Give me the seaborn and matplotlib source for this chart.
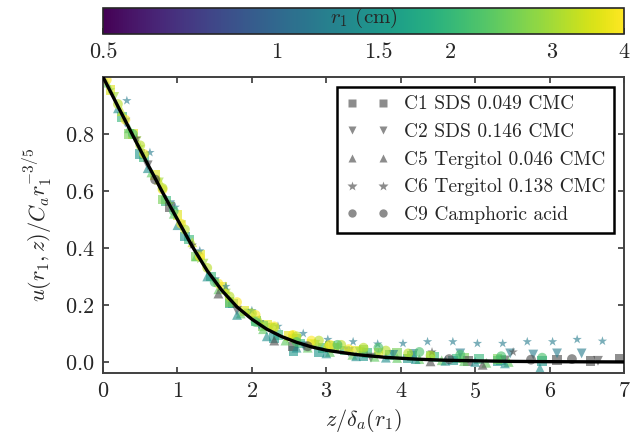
import seaborn as sns
import matplotlib as mpl
import matplotlib.pyplot as plt
import pandas as pd
from matplotlib.colors import LogNorm
from matplotlib.lines import Line2D
from matplotlib.ticker import NullLocator

# master curve
curve_z = [0, 0.2, 0.4, 0.6, 0.8, 1.0, 1.2, 1.4, 1.6, 1.8, 2.0, 2.2, 2.4, 2.6, 2.8,
           3.0, 3.4, 3.8, 4.2, 4.6, 5.0, 5.5, 6.0, 7.0]
curve_u = [1.0, 0.897, 0.795, 0.694, 0.595, 0.500, 0.405, 0.320, 0.250, 0.193, 0.150,
           0.115, 0.089, 0.069, 0.053, 0.041, 0.026, 0.016, 0.010, 0.006, 0.004,
           0.002, 0.001, 0.0]

# C1 SDS 0.049 CMC (squares)
c1_r1 = [3.6, 2.0, 1.5, 2.6, 0.4]
c1_z = [[0.1, 0.4, 0.7, 1.0, 1.3, 1.6, 1.9, 2.2, 2.5, 2.8, 3.1, 3.4, 3.7],
        [0.25, 0.55, 0.85, 1.15, 1.45, 1.75, 2.05, 2.35, 2.65, 2.95, 3.25, 3.55, 3.85,
         4.15, 4.45, 4.75, 5.05, 5.35],
        [0.5, 1.1, 1.7, 2.3, 2.56, 2.9, 3.5, 4.1, 4.7, 5.3, 5.9],
        [0.35, 0.8, 1.25, 1.7, 2.15, 2.6, 3.05, 3.5, 3.95, 4.4, 4.85, 5.3],
        [0.9, 2.55, 4.9, 6.1, 6.55, 6.95]]
c1_u = [[0.955, 0.80, 0.655, 0.515, 0.375, 0.265, 0.18, 0.13, 0.09, 0.065, 0.05, 0.04, 0.032],
        [0.86, 0.72, 0.565, 0.43, 0.30, 0.205, 0.145, 0.095, 0.065, 0.05, 0.04, 0.03, 0.025,
         0.02, 0.018, 0.012, 0.01, 0.008],
        [0.73, 0.44, 0.205, 0.085, 0.039, 0.035, 0.02, 0.012, 0.005, 0.002, 0.003],
        [0.80, 0.57, 0.37, 0.21, 0.125, 0.08, 0.055, 0.042, 0.03, 0.02, 0.015, 0.01],
        [0.545, 0.054, 0.003, 0.006, 0.002, 0.012]]

# C2 SDS 0.146 CMC (triangles down)
c2_r1 = [3.0, 1.2, 0.4]
c2_z = [[0.15, 0.45, 0.75, 1.05, 1.35, 1.65, 1.95, 2.25, 2.55, 2.85, 3.15, 3.45],
        [0.3, 0.9, 1.5, 2.1, 2.7, 3.3, 3.9, 4.17, 4.8, 5.47, 5.78, 6.1, 6.43],
        [0.6, 1.8, 3.6, 5.4, 6.65]]
c2_u = [[0.93, 0.775, 0.63, 0.48, 0.345, 0.24, 0.17, 0.12, 0.08, 0.06, 0.048, 0.035],
        [0.84, 0.55, 0.28, 0.13, 0.055, 0.035, 0.025, 0.028, 0.03, 0.03, 0.026, 0.03, 0.03],
        [0.69, 0.18, 0.015, 0.005, 0.004]]

# C5 Tergitol 0.046 CMC (triangles up)
c5_r1 = [2.4, 1.4, 3.4, 0.4]
c5_z = [[0.05, 0.35, 0.65, 0.95, 1.25, 1.55, 1.85, 2.15, 2.45, 2.75, 3.05, 3.35, 3.65,
         3.95, 4.25, 4.55, 4.85, 5.15, 5.45],
        [0.2, 0.6, 1.0, 1.4, 1.8, 2.2, 2.6, 3.0, 3.4, 3.8, 4.2, 4.6, 5.0, 5.4, 5.87],
        [0.25, 0.75, 1.2, 1.65, 2.1, 2.55, 3.0],
        [1.55, 2.3, 4.4, 5.1]]
c5_u = [[0.98, 0.82, 0.665, 0.52, 0.37, 0.255, 0.17, 0.115, 0.075, 0.05, 0.035, 0.025,
         0.018, 0.014, 0.010, 0.006, 0.003, -0.003, 0.0],
        [0.89, 0.68, 0.48, 0.30, 0.165, 0.09, 0.05, 0.03, 0.02, 0.015, 0.01, 0.004, 0.0,
         -0.005, -0.022],
        [0.88, 0.64, 0.42, 0.255, 0.15, 0.095, 0.06],
        [0.24, 0.075, 0.002, -0.01]]

# C6 Tergitol 0.138 CMC (stars)
c6_r1 = [1.2, 2.8, 0.4]
c6_z = [[0.32, 0.63, 0.97, 1.3, 1.65, 2.0, 2.35, 2.69, 3.02, 3.36, 3.69, 4.03, 4.36,
         4.70, 5.03, 5.37, 5.70, 6.04, 6.37, 6.71],
        [0.1, 0.5, 0.9, 1.3, 1.7, 2.1, 2.5, 2.9, 3.3, 3.7, 4.1],
        [0.45, 1.2, 4.42, 5.51]]
c6_u = [[0.917, 0.735, 0.543, 0.39, 0.265, 0.18, 0.125, 0.10, 0.079, 0.071, 0.063, 0.065,
         0.071, 0.071, 0.065, 0.065, 0.071, 0.071, 0.079, 0.073],
        [0.955, 0.755, 0.555, 0.36, 0.22, 0.135, 0.08, 0.055, 0.04, 0.03, 0.022],
        [0.785, 0.41, 0.035, 0.035]]

# C9 Camphoric acid (circles)
c9_r1 = [4.0, 3.2, 2.2, 0.4]
c9_z = [[0.05, 0.3, 0.55, 0.8, 1.05, 1.3, 1.55, 1.8, 2.05, 2.3, 2.55, 2.8, 3.05, 3.3],
        [0.2, 0.5, 0.8, 1.1, 1.4, 1.7, 2.0, 2.3, 2.6, 2.9, 3.2, 3.5, 3.8, 4.1, 4.4],
        [0.4, 0.95, 1.5, 2.05, 2.6, 3.15, 3.7, 4.25, 4.8, 5.35, 5.9],
        [0.7, 2.75, 4.65, 5.75, 6.3]]
c9_u = [[0.99, 0.85, 0.73, 0.605, 0.485, 0.37, 0.275, 0.21, 0.165, 0.125, 0.095, 0.075,
         0.06, 0.045],
        [0.905, 0.76, 0.61, 0.465, 0.33, 0.23, 0.17, 0.12, 0.09, 0.075, 0.06, 0.05, 0.04,
         0.03, 0.022],
        [0.80, 0.53, 0.28, 0.14, 0.07, 0.06, 0.05, 0.035, 0.025, 0.02, 0.015],
        [0.64, 0.055, 0.01, 0.008, 0.01]]

labels = ["C1 SDS 0.049 CMC", "C2 SDS 0.146 CMC", "C5 Tergitol 0.046 CMC",
          "C6 Tergitol 0.138 CMC", "C9 Camphoric acid"]
markers = ["s", "v", "^", "*", "o"]
sets = [(c1_r1, c1_z, c1_u), (c2_r1, c2_z, c2_u), (c5_r1, c5_z, c5_u),
        (c6_r1, c6_z, c6_u), (c9_r1, c9_z, c9_u)]

rows = []
for lab, (rs, zs, us) in zip(labels, sets):
    for r, zz, uu in zip(rs, zs, us):
        for z, u in zip(zz, uu):
            rows.append({"set": lab, "r1": r, "z": z, "u": u})
df = pd.DataFrame(rows)

sns.set_theme(style="ticks")
plt.rcParams["font.family"] = ["cmr10", "DejaVu Serif"]
plt.rcParams["mathtext.fontset"] = "cm"
plt.rcParams["axes.formatter.use_mathtext"] = True
plt.rcParams["axes.unicode_minus"] = False

cmap = mpl.colormaps["viridis"].copy()
cmap.set_under("0.3")
norm = LogNorm(0.5, 4)

fig = plt.figure(figsize=(6.44, 4.45), dpi=100)
ax = fig.add_axes([0.16, 0.161, 0.809, 0.666])
cax = fig.add_axes([0.16, 0.924, 0.809, 0.058])

sns.scatterplot(data=df, x="z", y="u", hue="r1", palette=cmap, hue_norm=norm,
                style="set", markers=dict(zip(labels, markers)), s=50, alpha=0.62,
                edgecolor="none", legend=False, ax=ax, zorder=2)
sns.lineplot(x=curve_z, y=curve_u, color="black", lw=2.4, ax=ax, zorder=3)

ax.set_xlim(0, 7)
ax.set_ylim(-0.04, 1.0)
ax.set_xticks(range(8))
ax.set_yticks([0.0, 0.2, 0.4, 0.6, 0.8])
ax.set_xlabel(r"$z/\delta_a(r_1)$", fontsize=16)
ax.set_ylabel(r"$u(r_1,z)/C_a r_1^{-3/5}$", fontsize=16, labelpad=8)
ax.tick_params(direction="in", top=True, right=True, length=4, width=1.1,
               labelsize=16, pad=6)
for sp in ax.spines.values():
    sp.set_linewidth(1.4)
    sp.set_color("0.25")

handles = [Line2D([], [], marker=m, ls="none", color="0.55", markersize=6 if m != "*" else 7,
                  mec="none") for m in markers]
leg = ax.legend(handles, labels, numpoints=2, loc="upper right", fontsize=14,
                frameon=True, fancybox=False, edgecolor="black", framealpha=1,
                handlelength=2.2, handletextpad=0.8, borderpad=0.45, labelspacing=0.5)
leg.get_frame().set_linewidth(1.8)

cb = fig.colorbar(mpl.cm.ScalarMappable(norm=norm, cmap=cmap), cax=cax,
                  orientation="horizontal")
cb.set_ticks([0.5, 1, 1.5, 2, 3, 4])
cb.set_ticklabels(["0.5", "1", "1.5", "2", "3", "4"])
cax.xaxis.set_minor_locator(NullLocator())
cax.tick_params(direction="in", bottom=True, top=False, length=4, width=1.1,
                labelsize=16, pad=6)
cb.outline.set_linewidth(1.2)
cax.text(0.5, 0.6, r"$r_1$ (cm)", ha="center", va="center", transform=cax.transAxes,
         fontsize=15)

fig.savefig("out.png", dpi=100)
